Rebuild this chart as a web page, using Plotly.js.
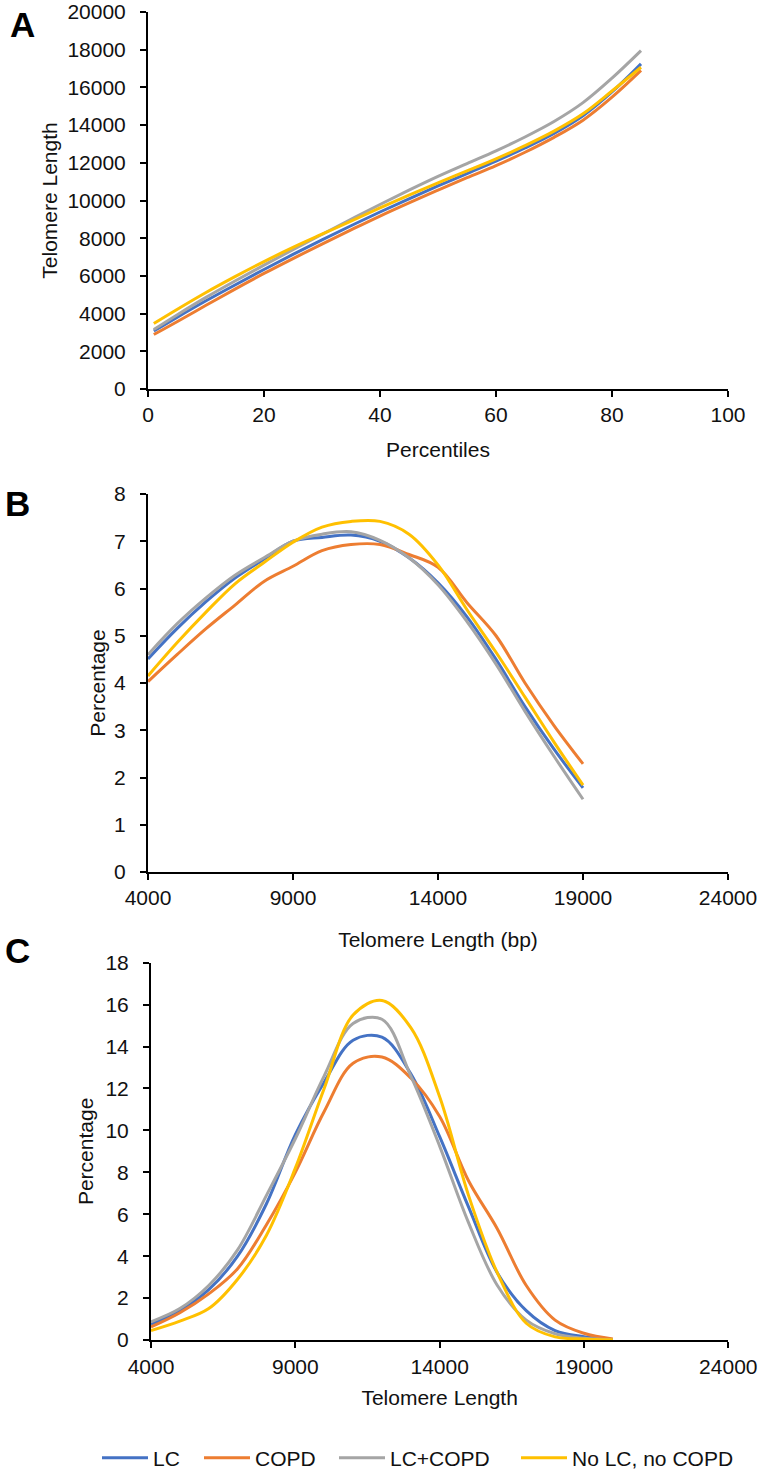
<!DOCTYPE html>
<html><head><meta charset="utf-8">
<script src="https://cdn.plot.ly/plotly-3.0.1.min.js"></script>
<style>body{margin:0;background:#fff}#chart{width:762px;height:1473px}</style>
</head><body><div id="chart"></div>
<script>
// ---------- data ----------
const seriesNames = ['LC', 'COPD', 'LC+COPD', 'No LC, no COPD'];
const seriesColors = ['#4472C4', '#ED7D31', '#A5A5A5', '#FFC000'];

// Panel A: telomere length by percentile
const percentiles = [1, 5, 10, 15, 20, 25, 30, 35, 40, 45, 50, 55, 60, 65, 70, 75, 80, 85];
const aLC     = [3075, 3800, 4680, 5520, 6340, 7140, 7910, 8660, 9390, 10090, 10770, 11430, 12090, 12790, 13560, 14500, 15760, 17250];
const aCOPD   = [2890, 3570, 4440, 5300, 6130, 6920, 7690, 8440, 9175, 9875, 10550, 11210, 11850, 12560, 13350, 14260, 15480, 16900];
const aLCCOPD = [3155, 3930, 4860, 5730, 6570, 7395, 8200, 9000, 9790, 10550, 11280, 11960, 12635, 13370, 14190, 15190, 16490, 17950];
const aNone   = [3475, 4220, 5120, 5960, 6760, 7510, 8210, 8900, 9610, 10290, 10940, 11570, 12210, 12910, 13680, 14600, 15810, 17070];

// Panel B: percentage by telomere length (bp)
const bLength = [4000, 5000, 6000, 7000, 8000, 9000, 10000, 11000, 12000, 13000, 14000, 15000, 16000, 17000, 18000, 19000];
const bLC     = [4.51, 5.15, 5.72, 6.22, 6.62, 7.00, 7.08, 7.13, 7.00, 6.65, 6.12, 5.40, 4.50, 3.50, 2.60, 1.78];
const bCOPD   = [4.03, 4.60, 5.15, 5.65, 6.15, 6.47, 6.80, 6.93, 6.93, 6.72, 6.45, 5.70, 5.00, 4.00, 3.10, 2.29];
const bLCCOPD = [4.60, 5.25, 5.80, 6.28, 6.65, 7.00, 7.15, 7.20, 7.02, 6.65, 6.08, 5.30, 4.40, 3.40, 2.45, 1.54];
const bNone   = [4.15, 4.85, 5.50, 6.10, 6.55, 6.98, 7.30, 7.42, 7.42, 7.15, 6.50, 5.55, 4.65, 3.70, 2.75, 1.84];

// Panel C: percentage by telomere length
const cLength = [4000, 5000, 6000, 7000, 8000, 9000, 10000, 11000, 12000, 13000, 14000, 15000, 16000, 17000, 18000, 19000, 20000];
const cLC     = [0.75, 1.40, 2.40, 4.00, 6.50, 9.80, 12.30, 14.30, 14.45, 12.70, 9.70, 6.35, 3.20, 1.40, 0.45, 0.16, 0.02];
const cCOPD   = [0.62, 1.30, 2.20, 3.40, 5.50, 8.00, 10.90, 13.20, 13.50, 12.50, 10.66, 7.60, 5.30, 2.60, 0.95, 0.32, 0.05];
const cLCCOPD = [0.87, 1.50, 2.60, 4.30, 6.90, 9.60, 12.60, 15.10, 15.30, 12.60, 9.25, 5.60, 2.60, 0.95, 0.30, 0.08, 0.01];
const cNone   = [0.45, 0.90, 1.50, 2.90, 5.00, 8.20, 12.00, 15.50, 16.20, 14.90, 11.60, 6.90, 3.20, 0.80, 0.15, 0.05, 0.01];

// ---------- build ----------
const FONT = 'Liberation Sans, Arial, sans-serif';
const TXT = '#111111';
const W = 762, H = 1473;
const px = v => v / W;
const py = v => 1 - v / H;

const panels = [
  {x: percentiles, ys: [aLC, aCOPD, aLCCOPD, aNone], xa: 'x', ya: 'y'},
  {x: bLength, ys: [bLC, bCOPD, bLCCOPD, bNone], xa: 'x2', ya: 'y2'},
  {x: cLength, ys: [cLC, cCOPD, cLCCOPD, cNone], xa: 'x3', ya: 'y3'}
];
const legendIds = ['legend', 'legend2', 'legend3', 'legend4'];
const traces = [];
panels.forEach((p, pi) => {
  p.ys.forEach((yv, si) => {
    traces.push({
      type: 'scatter', mode: 'lines', x: p.x, y: yv,
      name: seriesNames[si], xaxis: p.xa, yaxis: p.ya,
      line: {color: seriesColors[si], width: 3, shape: 'spline', smoothing: 1},
      showlegend: pi === 0, legend: legendIds[si], hoverinfo: 'x+y+name'
    });
  });
});

function axis(extra) {
  return Object.assign({
    showline: true, linecolor: '#000', linewidth: 2,
    ticks: 'outside', ticklen: 6, tickwidth: 2, tickcolor: '#000',
    showgrid: false, zeroline: false, fixedrange: true, automargin: false,
    tickfont: {family: FONT, size: 21, color: TXT}
  }, extra);
}
const titleFont = {family: FONT, size: 21, color: TXT};
const letterFont = {family: FONT, size: 35, color: '#000'};

const legendPos = [97, 199, 334, 516];
const layout = {
  width: W, height: H,
  margin: {l: 0, r: 0, t: 0, b: 0, autoexpand: false},
  paper_bgcolor: '#fff', plot_bgcolor: '#fff',
  font: {family: FONT, color: TXT, size: 21},
  xaxis: axis({domain: [px(148), px(728)], range: [0, 100], tickvals: [0, 20, 40, 60, 80, 100],
    anchor: 'y', ticklabelstandoff: 0,
    title: {text: 'Percentiles', font: titleFont, standoff: 17}}),
  yaxis: axis({domain: [py(389), py(12)], range: [0, 20000], dtick: 2000, tickformat: 'd',
    anchor: 'x', ticklabelstandoff: 10,
    title: {text: 'Telomere Length', font: titleFont, standoff: 4}}),
  xaxis2: axis({domain: [px(148), px(728)], range: [4000, 24000], tickvals: [4000, 9000, 14000, 19000, 24000],
    tickformat: 'd', anchor: 'y2', ticklabelstandoff: 0,
    title: {text: 'Telomere Length (bp)', font: titleFont, standoff: 24}}),
  yaxis2: axis({domain: [py(872), py(494)], range: [0, 8], dtick: 1, anchor: 'x2', ticklabelstandoff: 10,
    title: {text: 'Percentage', font: titleFont, standoff: 3}}),
  xaxis3: axis({domain: [px(151), px(728.3)], range: [4000, 24000], tickvals: [4000, 9000, 14000, 19000, 24000],
    tickformat: 'd', anchor: 'y3', ticklabelstandoff: 1,
    title: {text: 'Telomere Length', font: titleFont, standoff: 13}}),
  yaxis3: axis({domain: [py(1340), py(962.7)], range: [0, 18], dtick: 2, anchor: 'x3', ticklabelstandoff: 10,
    title: {text: 'Percentage', font: titleFont, standoff: 6}}),
  annotations: [
    {text: '<b>A</b>', x: px(22), y: py(25), xref: 'paper', yref: 'paper', xanchor: 'center', yanchor: 'middle', showarrow: false, font: letterFont},
    {text: '<b>B</b>', x: px(17), y: py(503), xref: 'paper', yref: 'paper', xanchor: 'center', yanchor: 'middle', showarrow: false, font: letterFont},
    {text: '<b>C</b>', x: px(17), y: py(950), xref: 'paper', yref: 'paper', xanchor: 'center', yanchor: 'middle', showarrow: false, font: letterFont}
  ],
  showlegend: true
};
legendIds.forEach((id, i) => {
  layout[id] = {
    x: px(legendPos[i]), y: py(1458), xanchor: 'left', yanchor: 'middle',
    orientation: 'h', bgcolor: 'rgba(0,0,0,0)', borderwidth: 0,
    font: {family: FONT, size: 21, color: TXT}, itemwidth: 46
  };
});

Plotly.newPlot('chart', traces, layout, {staticPlot: true, displayModeBar: false});
</script></body></html>
